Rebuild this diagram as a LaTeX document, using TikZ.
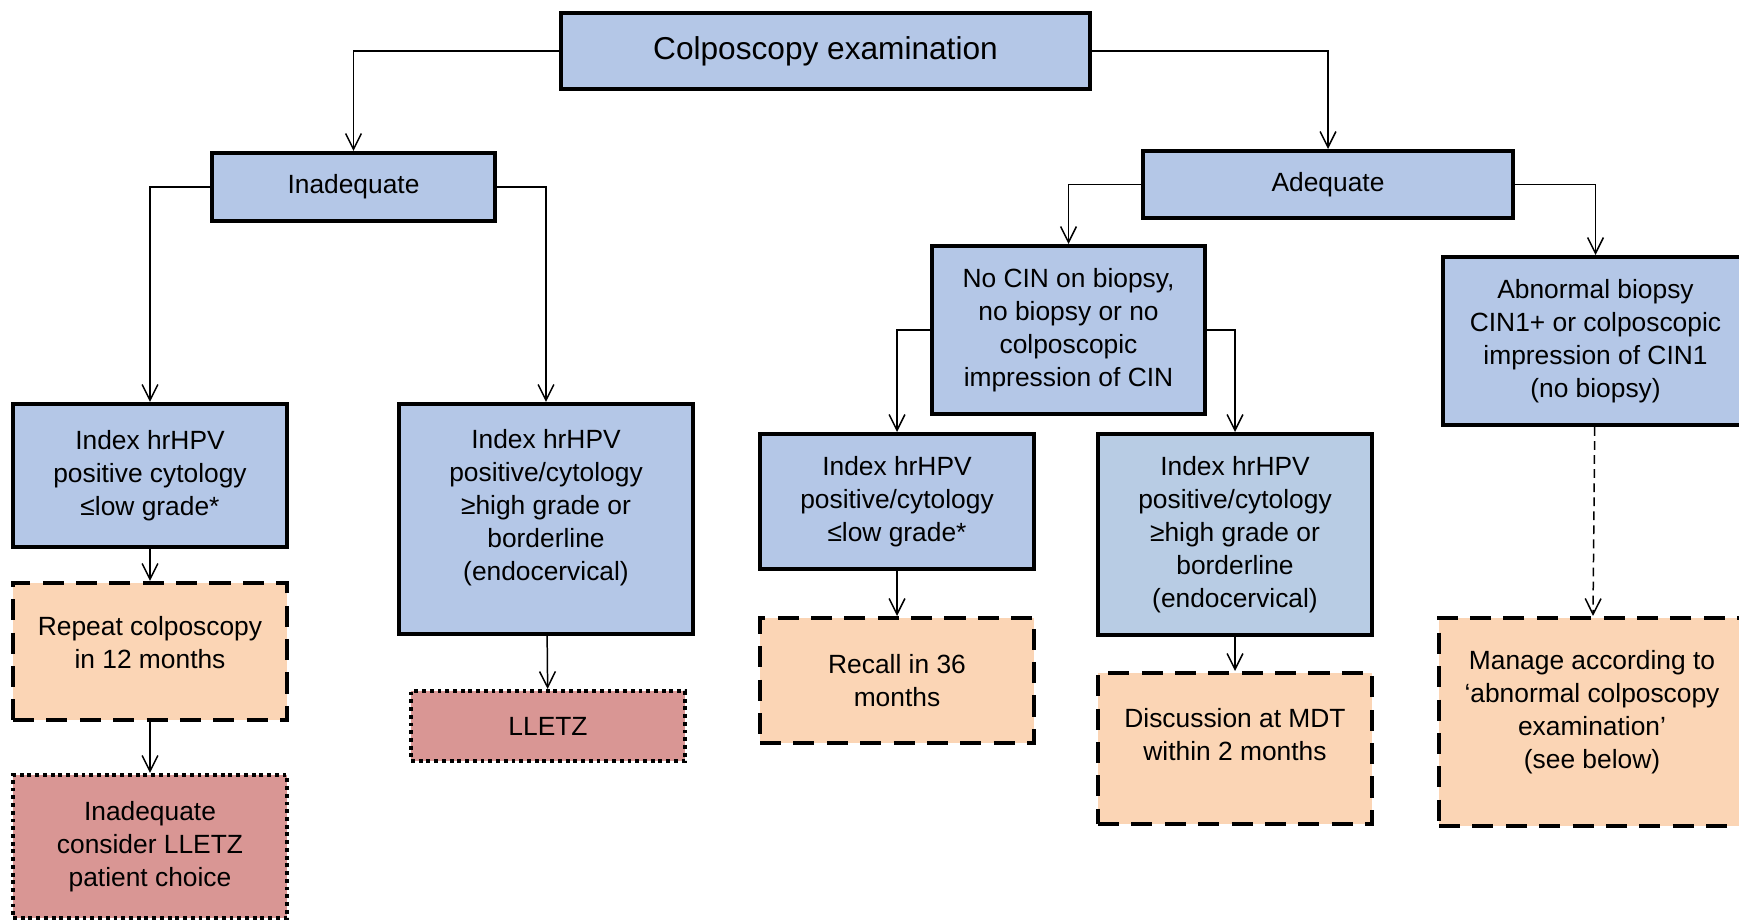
\documentclass[tikz,border=0pt]{standalone}
\usepackage{fontspec}
\setmainfont{Liberation Sans}
\usepackage{xcolor}
\definecolor{boxblue}{RGB}{180, 199, 231}
\definecolor{boxblue2}{RGB}{184, 204, 228}
\definecolor{waitpeach}{RGB}{251, 213, 181}
\definecolor{treatrose}{RGB}{217, 150, 148}
\usetikzlibrary{arrows.meta, positioning}

\begin{document}
\begin{tikzpicture}[
        every node/.style={font=\fontsize{15}{18.8}\selectfont, align=center, inner sep=2pt},
        blockbox/.style={rectangle, draw=black, line width=2.3pt, fill=boxblue},
        waitbox/.style={rectangle, draw=black, line width=2.3pt, fill=waitpeach, dash pattern=on 12pt off 7pt},
        treatbox/.style={rectangle, draw=black, line width=2.3pt, fill=treatrose, dash pattern=on 2.2pt off 2.2pt},
        link/.style={draw, line width=0.85pt, -{Straight Barb[length=9pt,width=9pt]}},
    ]

        \useasboundingbox (0,0) rectangle (34.78,-18.42);
        \clip (0,0) rectangle (34.78,-18.42);

        % Top
        \node[blockbox, minimum width=10.58cm, minimum height=1.52cm, font=\fontsize{18}{22}\selectfont] at (16.51,-1.02) (colpo) {Colposcopy examination};

        % Second level
        \node[blockbox, minimum width=5.66cm, minimum height=1.36cm] at (7.07,-3.74) (inadeq) {Inadequate};
        \node[blockbox, minimum width=7.40cm, minimum height=1.34cm] at (26.56,-3.69) (adeq) {Adequate};

        % Adequate branch
        \node[blockbox, minimum width=5.46cm, minimum height=3.36cm] at (21.37,-6.60) (nocin) {No CIN on biopsy,\\no biopsy or no\\colposcopic\\impression of CIN};
        \node[blockbox, minimum width=6.10cm, minimum height=3.36cm] at (31.91,-6.82) (abnorm) {Abnormal biopsy\\CIN1+ or colposcopic\\impression of CIN1\\(no biopsy)};

        % Index boxes
        \node[blockbox, minimum width=5.48cm, minimum height=2.86cm] at (3.00,-9.51) (lowinad) {Index hrHPV\\positive cytology\\≤low grade*};
        \node[blockbox, minimum width=5.88cm, minimum height=4.60cm, text depth=16pt] at (10.92,-10.38) (highinad) {Index hrHPV\\positive/cytology\\≥high grade or\\borderline\\(endocervical)};
        \node[blockbox, minimum width=5.48cm, minimum height=2.70cm] at (17.94,-10.03) (lowadeq) {Index hrHPV\\positive/cytology\\≤low grade*};
        \node[blockbox, fill=boxblue2, minimum width=5.48cm, minimum height=4.02cm] at (24.70,-10.69) (highadeq) {Index hrHPV\\positive/cytology\\≥high grade or\\borderline\\(endocervical)};

        % Outcomes
        \node[waitbox, minimum width=5.48cm, minimum height=2.74cm, text depth=10pt] at (3.00,-13.03) (repeat) {Repeat colposcopy\\in 12 months};
        \node[treatbox, minimum width=5.48cm, minimum height=2.86cm] at (3.00,-16.93) (consider) {Inadequate\\consider LLETZ\\patient choice};
        \node[treatbox, minimum width=5.48cm, minimum height=1.40cm] at (10.96,-14.52) (lletz) {LLETZ};
        \node[waitbox, minimum width=5.48cm, minimum height=2.50cm] at (17.94,-13.61) (recall) {Recall in 36\\months};
        \node[waitbox, minimum width=5.48cm, minimum height=3.02cm, text depth=16pt] at (24.70,-14.97) (mdt) {Discussion at MDT\\within 2 months};
        \node[waitbox, minimum width=6.12cm, minimum height=4.16cm, text depth=14pt] at (31.84,-14.44) (manage) {Manage according to\\‘abnormal colposcopy\\examination’\\(see below)};

        % Connectors
        \draw[link] (colpo.west) -| (inadeq.north);
        \draw[link] (colpo.east) -| (adeq.north);
        \draw[link] (inadeq.west) -| (lowinad.north);
        \draw[link] (inadeq.east) -| (highinad.north);
        \draw[link] (adeq.west) -| (nocin.north);
        \draw[link] (adeq.east) -| (abnorm.north);
        \draw[link] (nocin.west) -| (lowadeq.north);
        \draw[link] (nocin.east) -| (highadeq.north);
        \draw[link] (lowinad) -- (repeat);
        \draw[link] (repeat) -- (consider);
        \draw[link] (highinad) -- (lletz);
        \draw[link] (lowadeq) -- (recall);
        \draw[link] (highadeq) -- (mdt);
        \draw[link, dash pattern=on 5pt off 3pt] (abnorm) -- (manage);

    \end{tikzpicture}
\end{document}
